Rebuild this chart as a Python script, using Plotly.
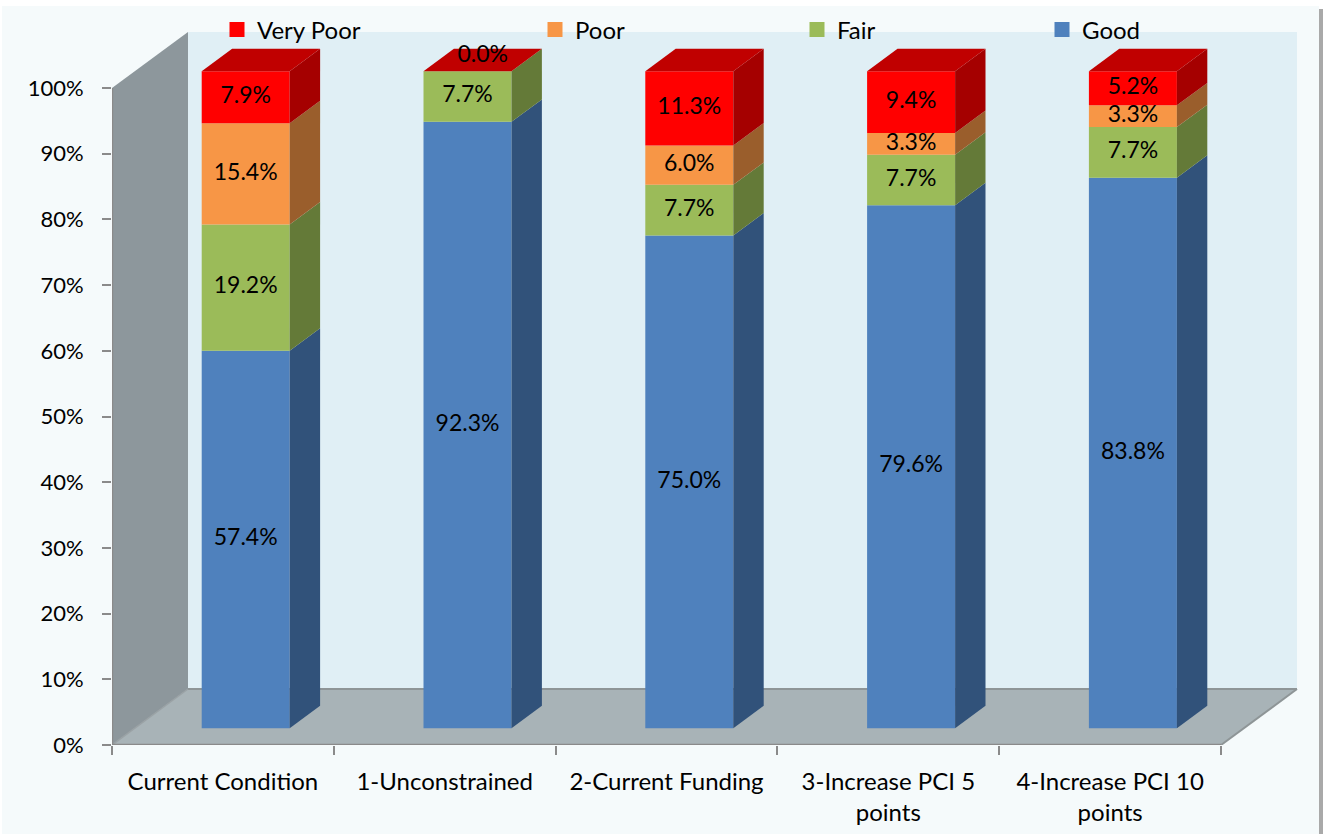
import plotly.graph_objects as go

# ---------------- data ----------------
categories = ["Current Condition", "1-Unconstrained", "2-Current Funding",
              "3-Increase PCI 5<br>points", "4-Increase PCI 10<br>points"]
series_names = ["Good", "Fair", "Poor", "Very Poor"]
good = [57.4, 92.3, 75.0, 79.6, 83.8]
fair = [19.2, 7.7, 7.7, 7.7, 7.7]
poor = [15.4, 0.0, 6.0, 3.3, 3.3]
very_poor = [7.9, 0.0, 11.3, 9.4, 5.2]
y_ticks = [0, 10, 20, 30, 40, 50, 60, 70, 80, 90, 100]
y_ticktext = [f"{v}%" for v in y_ticks]

# ---------------- style ----------------
front_colors = {"Good": "#4F81BD", "Fair": "#9BBB59", "Poor": "#F79646", "Very Poor": "#FF0000"}
side_colors = {"Good": "#31527A", "Fair": "#647A38", "Poor": "#9A5E2C", "Very Poor": "#A50000"}
top_colors = {"Good": "#3E66A0", "Fair": "#7E9A44", "Poor": "#C87A38", "Very Poor": "#C00000"}
FONT = "Lato"

# pixel geometry -> data units
PX_X = 221.8           # pixels per category
PX_Y = 6.57            # pixels per percent
DXU = 76 / PX_X        # full depth offset (x, data units)
DYU = 56 / PX_Y        # full depth offset (y, data units)
F_FRONT = 0.3          # bar front at 30% of depth
F_DEPTH = 0.4          # bar depth is 40% of full depth
HALF_W = 44 / PX_X     # half front width of bars

L_MARGIN, R_EDGE, T_MARGIN, B_MARGIN = 112, 1302, 29, 89
x_range = [-0.5, -0.5 + (R_EDGE - L_MARGIN) / PX_X]
y_range = [0, (834 - B_MARGIN - T_MARGIN) / PX_Y]

n = len(categories)
values = [good, fair, poor, very_poor]
# 100% stacked: normalise each column
totals = [sum(v[i] for v in values) for i in range(n)]
norm = [[v[i] / totals[i] * 100 for i in range(n)] for v in values]

fig = go.Figure()

def poly(xs, ys, color, line_color=None, lw=0):
    fig.add_trace(go.Scatter(
        x=xs + [xs[0]], y=ys + [ys[0]], mode="lines", fill="toself",
        fillcolor=color, line=dict(color=line_color or color, width=lw),
        hoverinfo="skip", showlegend=False))

def line(xs, ys, color, w):
    fig.add_trace(go.Scatter(x=xs, y=ys, mode="lines", line=dict(color=color, width=w),
                             hoverinfo="skip", showlegend=False))

x_lo, x_hi = -0.5, n - 0.5
# walls
poly([x_lo + DXU, x_hi + DXU, x_hi + DXU, x_lo + DXU], [DYU, DYU, 100 + DYU, 100 + DYU], "#E0EFF5")
poly([x_lo, x_lo + DXU, x_lo + DXU, x_lo], [0, DYU, 100 + DYU, 100], "#8D979C")
poly([x_lo, x_hi, x_hi + DXU, x_lo + DXU], [0, 0, DYU, DYU], "#A8B3B7")
# floor / wall edges
line([x_lo + DXU, x_hi + DXU], [DYU, DYU], "#8E9597", 2)
line([x_lo, x_lo + DXU], [0, DYU], "#9AA2A5", 1.5)
line([x_hi, x_hi + DXU], [0, DYU], "#8E9597", 2)
line([x_lo, x_hi], [0, 0], "#8A8A8A", 2.5)
line([x_lo, x_lo], [0, 100], "#8A8A8A", 2.5)

# bars
ox = F_FRONT * DXU
oy = F_FRONT * DYU
bdx = F_DEPTH * DXU
bdy = F_DEPTH * DYU
lab_x, lab_y, lab_t = [], [], []
for i in range(n):
    cx = i + ox
    xl, xr = cx - HALF_W, cx + HALF_W
    cum = 0.0
    for s, name in enumerate(series_names):
        v = norm[s][i]
        y0, y1 = cum + oy, cum + v + oy
        if v > 0:
            poly([xl, xr, xr, xl], [y0, y0, y1, y1], front_colors[name])
            poly([xr, xr + bdx, xr + bdx, xr], [y0, y0 + bdy, y1 + bdy, y1], side_colors[name])
        raw = values[s][i]
        if raw > 0:
            lab_x.append(cx)
            lab_y.append(cum + v / 2 + oy)
            lab_t.append(f"{raw:.1f}%")
        elif s == len(series_names) - 1:
            lab_x.append(cx + bdx / 2)
            lab_y.append(cum + oy + bdy / 2 + 0.6)
            lab_t.append(f"{raw:.1f}%")
        cum += v
    top = cum + oy
    poly([xl, xr, xr + bdx, xl + bdx], [top, top, top + bdy, top + bdy], top_colors[series_names[-1]])

fig.add_trace(go.Scatter(x=lab_x, y=lab_y, text=lab_t, mode="text",
                         textfont=dict(family=FONT, size=23, color="#000000"),
                         hoverinfo="skip", showlegend=False))

# legend entries (one legend each, placed like the reference)
legend_px = {"Very Poor": 237, "Poor": 555, "Fair": 817, "Good": 1062}
layout_legends = {}
for k, name in enumerate(["Very Poor", "Poor", "Fair", "Good"]):
    key = "legend" if k == 0 else f"legend{k + 1}"
    fig.add_trace(go.Scatter(x=[None], y=[None], mode="markers", name=name,
                             marker=dict(symbol="square", size=15, color=front_colors[name]),
                             legend=key, showlegend=True))
    layout_legends[key] = dict(
        x=(legend_px[name] - 20 - L_MARGIN) / (R_EDGE - L_MARGIN), xanchor="left",
        y=(834 - B_MARGIN - 30) / (834 - B_MARGIN - T_MARGIN), yanchor="middle",
        bgcolor="rgba(0,0,0,0)", font=dict(family=FONT, size=24, color="#000000"),
        itemwidth=30, orientation="h")

pw = R_EDGE - L_MARGIN
ph = 834 - B_MARGIN - T_MARGIN
def pxx(p):
    return (p - L_MARGIN) / pw
def pxy(p):
    return (834 - B_MARGIN - p) / ph

fig.update_layout(
    width=1324, height=834,
    margin=dict(l=L_MARGIN, r=1324 - R_EDGE, t=T_MARGIN, b=B_MARGIN, autoexpand=False),
    paper_bgcolor="#FFFFFF", plot_bgcolor="rgba(0,0,0,0)",
    font=dict(family=FONT, size=22, color="#000000"),
    shapes=[
        dict(type="rect", xref="paper", yref="paper", x0=pxx(1319), x1=pxx(1323),
             y0=pxy(840), y1=pxy(9), fillcolor="#A9A9A9", line=dict(width=0), layer="below"),
        dict(type="rect", xref="paper", yref="paper", x0=pxx(2), x1=pxx(1319),
             y0=pxy(840), y1=pxy(6), fillcolor="#F5FAFB", line=dict(width=0), layer="below"),
    ],
    xaxis=dict(range=x_range, showgrid=False, zeroline=False, showline=False,
               tickvals=list(range(n)), ticktext=categories, ticks="",
               ticklabelstandoff=20, tickfont=dict(family=FONT, size=24),
               minor=dict(tickmode="array", tickvals=[i - 0.5 for i in range(n + 1)],
                          ticks="outside", ticklen=9, tickwidth=2, tickcolor="#8A8A8A",
                          showgrid=False)),
    yaxis=dict(range=y_range, showgrid=False, zeroline=False, showline=False,
               tickvals=y_ticks, ticktext=y_ticktext, ticks="outside", ticklen=9,
               tickwidth=2, tickcolor="#8A8A8A", ticklabelstandoff=14,
               tickfont=dict(family=FONT, size=22)),
    **layout_legends,
)

fig.write_html("out.html", config={"displayModeBar": False},
               post_script="document.body.style.margin='0';document.body.style.overflow='hidden';")
